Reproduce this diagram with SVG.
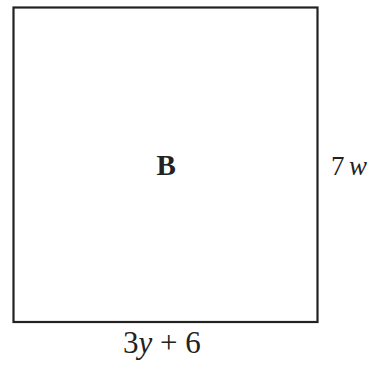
<svg xmlns="http://www.w3.org/2000/svg" width="375" height="365" viewBox="0 0 375 365">
<style>
text{font-family:'Liberation Serif','Times New Roman',serif;fill:#222}
.i{font-style:italic}
</style>
<rect width="375" height="365" fill="#fff"/>
<g id="square">
<rect x="13.5" y="7.5" width="304" height="314.5" fill="none" stroke="#222" stroke-width="2.2"/>
<text x="156.5" y="175" font-size="29" font-weight="bold">B</text>
</g>
<g id="labels">
<text y="175" font-size="27"><tspan x="331">7</tspan><tspan class="i" x="349">w</tspan></text>
<text x="123" y="353" font-size="31">3<tspan class="i">y</tspan> + 6</text>
</g>
</svg>
